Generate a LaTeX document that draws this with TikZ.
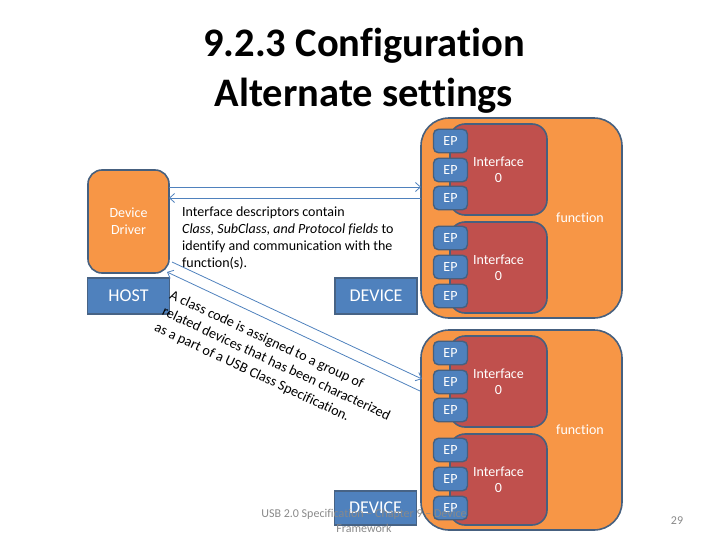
\documentclass[tikz,border=0pt]{standalone}
\usepackage{fontspec}
\usetikzlibrary{arrows.meta}
\setmainfont{Carlito}[Ligatures=NoCommon]
\definecolor{boxorange}{HTML}{F79646}
\definecolor{boxred}{HTML}{C0504D}
\definecolor{boxblue}{HTML}{4F81BD}
\definecolor{boxline}{HTML}{46607F}
\definecolor{footgray}{HTML}{898989}
\tikzset{
  funcbox/.style={draw=boxline,line width=1.6pt,fill=boxorange,rounded corners=28pt,minimum width=201pt,minimum height=200pt},
  ifacebox/.style={draw=boxline,line width=1.6pt,fill=boxred,rounded corners=15pt,minimum width=97pt,minimum height=91pt,text=white,align=center,font=\fontsize{14}{16.5}\selectfont},
  epbox/.style={draw=boxline,line width=1.4pt,fill=boxblue,rounded corners=5pt,minimum width=34pt,minimum height=23.5pt,text=white,font=\fontsize{14}{15}\selectfont},
  namebox/.style={draw=boxline!90!boxblue,line width=1.2pt,fill=boxblue,minimum width=82pt,minimum height=36pt,text=white,font=\fontsize{18}{20}\selectfont},
  flow/.style={-{Straight Barb[length=5pt,width=9pt]},boxblue,line width=0.8pt},
}
\begin{document}
\begin{tikzpicture}[x=1pt,y=-1pt]
  \useasboundingbox (0,0) rectangle (728,546);

  % title
  \node[font=\fontsize{40.5}{50}\selectfont\bfseries,align=center] (title) at (364,71) {9.2.3 Configuration\\Alternate settings};

  % host side
  \node[draw=boxline,line width=1.6pt,fill=boxorange,rounded corners=14pt,minimum width=81pt,minimum height=103pt,text=white,align=center,font=\fontsize{14}{17}\selectfont] (driver) at (128.5,221.5) {Device\\Driver};
  \node[namebox] (host) at (128.5,296) {HOST};

  % two functions, each with two interfaces and six endpoints
  \foreach \n/\dy in {1/0,2/212} {
    \node[funcbox] (func\n) at (521.5,218+\dy) {};
    \node[text=white,font=\fontsize{14}{15}\selectfont] (funclabel\n) at (580,218+\dy) {function};
    \node[ifacebox] (ifaceA\n) at (498.5,169.5+\dy) {Interface\\0};
    \node[ifacebox] (ifaceB\n) at (498.5,267.5+\dy) {Interface\\0};
    \foreach \m/\y in {a/141,b/170,c/198,d/238,e/267,f/296} {
      \node[epbox] (ep\m\n) at (450.5,\y+\dy) {EP};
    }
  }

  % device labels
  \node[namebox] (device1) at (376,296) {DEVICE};
  \node[namebox,minimum height=34pt] (device2) at (375.5,508) {DEVICE};

  % connectors, free ends on the boxes
  \coordinate (up1) at (169,187);
  \coordinate (up2) at (421,187);
  \coordinate (down1) at (421,198);
  \coordinate (down2) at (169,198);
  \coordinate (slant1) at (172,262);
  \coordinate (slant2) at (422,379);
  \coordinate (slant3) at (420,391);
  \coordinate (slant4) at (167,272);
  \draw[flow] (up1) -- (up2);
  \draw[flow] (down1) -- (down2);
  \draw[flow] (slant1) -- (slant2);
  \draw[flow] (slant3) -- (slant4);

  % notes
  \node[anchor=north west,align=left,inner sep=0pt,font=\fontsize{14}{17}\selectfont] (note1) at (182,207) {Interface descriptors contain\\\textit{Class, SubClass, and Protocol fields} to\\identify and communication with the\\function(s).};
  \node[rotate=-25,align=left,font=\fontsize{14.2}{18}\selectfont] (note2) at (276,364) {A class code is assigned to a group of\\related devices that has been characterized\\as a part of a USB Class Specification.};

  % footer
  \node[text=footgray,align=center,font=\fontsize{12}{15}\selectfont] (footer) at (364,521) {USB 2.0 Specification -- Chapter 9 -- Device\\Framework};
  \node[text=footgray,font=\fontsize{12}{13}\selectfont] (page) at (677,521) {29};
\end{tikzpicture}
\end{document}
